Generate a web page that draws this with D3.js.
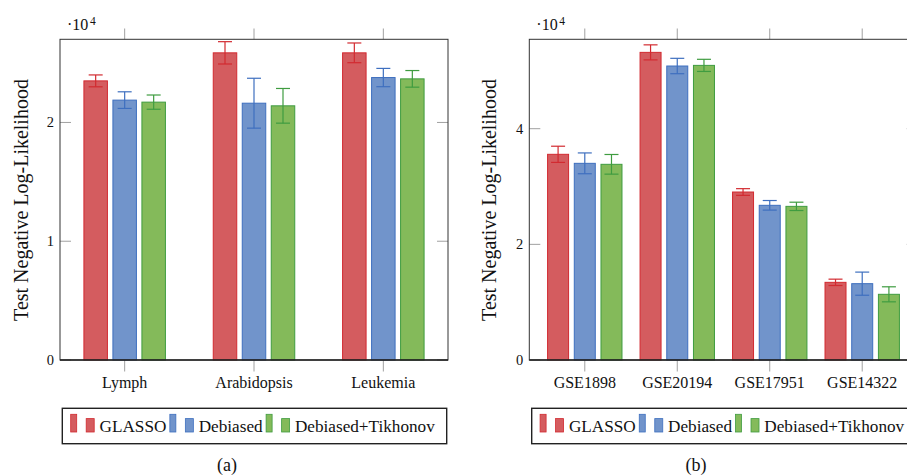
<html>
<head>
<title>Test NLL</title>
<style>
  body { margin: 0; background: #fff; }
  text { font-family: "Liberation Serif", "Times New Roman", serif; fill: #111; }
</style>
</head>
<body>
<div id="chart-area"></div>
<script src="https://d3js.org/d3.v7.min.js"></script>
<script>

// data (values in raw units, axis shows them as x10^4)
const seriesNames = ["GLASSO", "Debiased", "Debiased+Tikhonov"]

const categoriesA = ["Lymph", "Arabidopsis", "Leukemia"]
const glassoA = [23500, 25860, 25860]
const glassoErrA = [500, 940, 830]
const debiasedA = [21880, 21620, 23780]
const debiasedErrA = [700, 2100, 770]
const tikhonovA = [21710, 21400, 23670]
const tikhonovErrA = [600, 1460, 700]
const yTicksA = [0, 10000, 20000]

const categoriesB = ["GSE1898", "GSE20194", "GSE17951", "GSE14322"]
const glassoB = [35570, 53200, 29050, 13430]
const glassoErrB = [1400, 1300, 580, 550]
const debiasedB = [34010, 50840, 26750, 13200]
const debiasedErrB = [1800, 1330, 830, 2000]
const tikhonovB = [33840, 50950, 26570, 11360]
const tikhonovErrB = [1700, 1050, 720, 1300]
const yTicksB = [0, 20000, 40000]

const FILL = ["#d45c5f", "#7194cb", "#84ba5a"]
const STROKE = ["#d22a30", "#3e6fbf", "#3f9c40"]

const svg = d3.select("#chart-area")
    .append("svg")
    .attr("width", 907)
    .attr("height", 475)

function panel(opt) {
    const g = svg.append("g")

    const x = d3.scalePoint()
        .domain(opt.categories)
        .range([opt.left, opt.right])
        .padding(opt.pad)

    const y = d3.scaleLinear()
        .domain([0, opt.ymax])
        .range([360, 39.3])

    const series = [
        { vals: opt.glasso, errs: opt.glassoErr },
        { vals: opt.debiased, errs: opt.debiasedErr },
        { vals: opt.tikhonov, errs: opt.tikhonovErr }
    ]

    // top + bottom category ticks (outside)
    opt.categories.forEach(c => {
        g.append("line")
            .attr("x1", x(c)).attr("x2", x(c))
            .attr("y1", 28.5).attr("y2", 39.3)
            .attr("stroke", "#a0a0a0").attr("stroke-width", 1)
        g.append("line")
            .attr("x1", x(c)).attr("x2", x(c))
            .attr("y1", 360).attr("y2", 371.5)
            .attr("stroke", "#a0a0a0").attr("stroke-width", 1)
    })

    // y ticks (inside, both sides)
    opt.yTicks.forEach(t => {
        g.append("line")
            .attr("x1", opt.left).attr("x2", opt.left + 11)
            .attr("y1", y(t)).attr("y2", y(t))
            .attr("stroke", "#a0a0a0")
        g.append("line")
            .attr("x1", opt.right - 11).attr("x2", opt.right)
            .attr("y1", y(t)).attr("y2", y(t))
            .attr("stroke", "#a0a0a0")
        g.append("text")
            .attr("x", opt.left - 6)
            .attr("y", y(t) + 5)
            .attr("text-anchor", "end")
            .attr("font-size", "14.5px")
            .text(t / 10000)
    })

    // bars
    series.forEach((s, i) => {
        const off = (i - 1) * opt.gap
        g.selectAll(null)
            .data(opt.categories)
            .enter()
            .append("rect")
                .attr("x", d => x(d) + off - opt.bw / 2)
                .attr("y", (d, k) => y(s.vals[k]))
                .attr("width", opt.bw)
                .attr("height", (d, k) => 360 - y(s.vals[k]))
                .attr("fill", FILL[i])
                .attr("stroke", STROKE[i])
                .attr("stroke-width", 1)

        // error bars
        opt.categories.forEach((c, k) => {
            const cx = x(c) + off
            const hi = y(s.vals[k] + s.errs[k])
            const lo = y(s.vals[k] - s.errs[k])
            g.append("line")
                .attr("x1", cx).attr("x2", cx).attr("y1", hi).attr("y2", lo)
                .attr("stroke", STROKE[i]).attr("stroke-width", 1.2)
            ;[hi, lo].forEach(yy => {
                g.append("line")
                    .attr("x1", cx - 7).attr("x2", cx + 7).attr("y1", yy).attr("y2", yy)
                    .attr("stroke", STROKE[i]).attr("stroke-width", 1.2)
            })
        })
    })

    // frame
    g.append("rect")
        .attr("x", opt.left).attr("y", 39.3)
        .attr("width", opt.right - opt.left).attr("height", 360 - 39.3)
        .attr("fill", "none").attr("stroke", "#333").attr("stroke-width", 1)
    g.append("line")
        .attr("x1", opt.left).attr("x2", opt.right)
        .attr("y1", 360).attr("y2", 360)
        .attr("stroke", "#222").attr("stroke-width", 1.6)

    // category labels
    opt.categories.forEach(c => {
        g.append("text")
            .attr("x", x(c)).attr("y", 387.5)
            .attr("text-anchor", "middle")
            .attr("font-size", "16px")
            .text(c)
    })

    // multiplier
    g.append("text")
        .attr("x", opt.left + 7).attr("y", 30)
        .style("font-size", "16px")
        .text("\u00b710")
    g.append("text")
        .attr("x", opt.left + 30).attr("y", 24.5)
        .style("font-size", "11.5px")
        .text("4")

    // y label
    g.append("text")
        .attr("transform", `translate(${opt.ylabelX}, 200) rotate(-90)`)
        .attr("text-anchor", "middle")
        .attr("font-size", "20px")
        .text("Test Negative Log-Likelihood")

    // legend
    const lg = g.append("g")
    lg.append("rect")
        .attr("x", opt.legX).attr("y", 408.3)
        .attr("width", 384.4).attr("height", 35.4)
        .attr("fill", "#fff").attr("stroke", "#222").attr("stroke-width", 1.4)
    let cx = opt.legX + 8.4
    seriesNames.forEach((name, i) => {
        lg.append("rect")
            .attr("x", cx).attr("y", 414.3).attr("width", 6).attr("height", 17.7)
            .attr("fill", FILL[i]).attr("stroke", STROKE[i]).attr("stroke-width", 0.8)
        lg.append("rect")
            .attr("x", cx + 15.5).attr("y", 418.6).attr("width", 8).attr("height", 13.4)
            .attr("fill", FILL[i]).attr("stroke", STROKE[i]).attr("stroke-width", 0.8)
        const t = lg.append("text")
            .attr("x", cx + 28.8).attr("y", 432)
            .attr("font-size", "17.2px")
            .text(name)
        cx = cx + 28.8 + t.node().getComputedTextLength() + 3.5
    })

    // caption
    g.append("text")
        .attr("x", opt.capX).attr("y", 471)
        .attr("text-anchor", "middle")
        .attr("font-size", "18px")
        .text(opt.caption)
}

panel({
    categories: categoriesA, glasso: glassoA, glassoErr: glassoErrA,
    debiased: debiasedA, debiasedErr: debiasedErrA,
    tikhonov: tikhonovA, tikhonovErr: tikhonovErrA,
    yTicks: yTicksA, ymax: 27000,
    left: 60, right: 448, pad: 0.5, gap: 29, bw: 23.5,
    ylabelX: 28, legX: 62.3, capX: 227, caption: "(a)"
})

panel({
    categories: categoriesB, glasso: glassoB, glassoErr: glassoErrB,
    debiased: debiasedB, debiasedErr: debiasedErrB,
    tikhonov: tikhonovB, tikhonovErr: tikhonovErrB,
    yTicks: yTicksB, ymax: 55460,
    left: 529.3, right: 917.7, pad: 0.6, gap: 26.7, bw: 21,
    ylabelX: 496, legX: 531.7, capX: 696, caption: "(b)"
})

</script>
</body>
</html>
